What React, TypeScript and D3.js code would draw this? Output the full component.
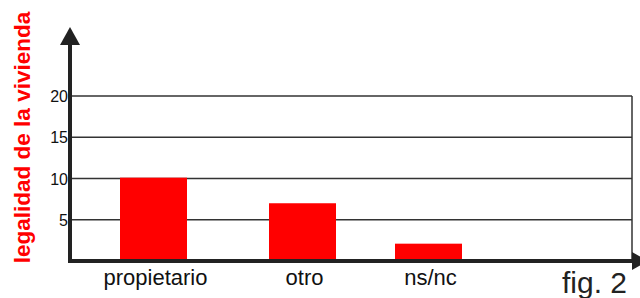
import { useEffect, useRef } from 'react';
import * as d3 from 'd3';

const categories = ['propietario', 'otro', 'ns/nc'];
const values = [10.1, 7, 2.1];
const yTicks = [5, 10, 15, 20];
const yTitle = 'legalidad de la vivienda';
const figLabel = 'fig. 2';

export default function App() {
	const ref = useRef<SVGSVGElement | null>(null);

	useEffect(() => {
		if (!ref.current) return;
		const svg = d3.select(ref.current);
		svg.selectAll('*').remove();

		const x0 = 70;
		const x1 = 632;
		const yScale = d3.scaleLinear().domain([0, 20]).range([261, 96]);
		const xScale = d3.scaleOrdinal<string, number>().domain(categories).range([153.5, 302.5, 428.5]);
		const barW = 67;
		const font = 'Arial, "Liberation Sans", Helvetica, sans-serif';

		// gridlines
		svg
			.append('g')
			.selectAll('line')
			.data(yTicks)
			.join('line')
			.attr('x1', x0)
			.attr('x2', x1)
			.attr('y1', d => yScale(d))
			.attr('y2', d => yScale(d))
			.attr('stroke', '#333')
			.attr('stroke-width', 1.5);

		// right border
		svg
			.append('line')
			.attr('x1', x1)
			.attr('x2', x1)
			.attr('y1', yScale(20))
			.attr('y2', yScale(0))
			.attr('stroke', '#333')
			.attr('stroke-width', 1.5);

		// bars
		svg
			.append('g')
			.selectAll('rect')
			.data(values)
			.join('rect')
			.attr('x', (d, i) => xScale(categories[i]) - barW / 2)
			.attr('width', barW)
			.attr('y', d => yScale(d))
			.attr('height', d => yScale(0) - yScale(d))
			.attr('fill', '#ff0000');

		// axes
		svg
			.append('line')
			.attr('x1', x0)
			.attr('x2', x0)
			.attr('y1', 42)
			.attr('y2', yScale(0) + 2)
			.attr('stroke', '#222')
			.attr('stroke-width', 4);
		svg
			.append('path')
			.attr('d', `M${x0},27 L${x0 - 10},45 L${x0 + 10},45 Z`)
			.attr('fill', '#222');
		svg
			.append('line')
			.attr('x1', x0 - 2)
			.attr('x2', 636)
			.attr('y1', yScale(0))
			.attr('y2', yScale(0))
			.attr('stroke', '#222')
			.attr('stroke-width', 4);
		svg
			.append('path')
			.attr('d', `M632,${yScale(0) - 9} L648,${yScale(0)} L632,${yScale(0) + 9} Z`)
			.attr('fill', '#222');

		// y tick labels
		svg
			.append('g')
			.selectAll('text')
			.data(yTicks)
			.join('text')
			.attr('x', 68)
			.attr('y', d => yScale(d) + 6)
			.attr('text-anchor', 'end')
			.attr('font-family', font)
			.attr('font-size', 16)
			.attr('fill', '#111')
			.text(d => d);

		// category labels
		svg
			.append('g')
			.selectAll('text')
			.data(categories)
			.join('text')
			.attr('x', d => xScale(d) + 2)
			.attr('y', 285)
			.attr('text-anchor', 'middle')
			.attr('font-family', font)
			.attr('font-size', 22)
			.attr('fill', '#111')
			.text(d => d);

		// y title
		svg
			.append('text')
			.attr('transform', 'translate(30,137.5) rotate(-90)')
			.attr('text-anchor', 'middle')
			.attr('font-family', font)
			.attr('font-size', 22.5)
			.attr('font-weight', 'bold')
			.attr('fill', '#ff0000')
			.text(yTitle);

		// figure label
		svg
			.append('text')
			.attr('x', 627)
			.attr('y', 293)
			.attr('text-anchor', 'end')
			.attr('font-family', font)
			.attr('font-size', 30)
			.attr('fill', '#222')
			.text(figLabel);
	}, []);

	return (
		<svg
			ref={ref}
			width={640}
			height={298}
			style={{ position: 'absolute', left: 0, top: 0, background: '#fff' }}
		/>
	);
}
